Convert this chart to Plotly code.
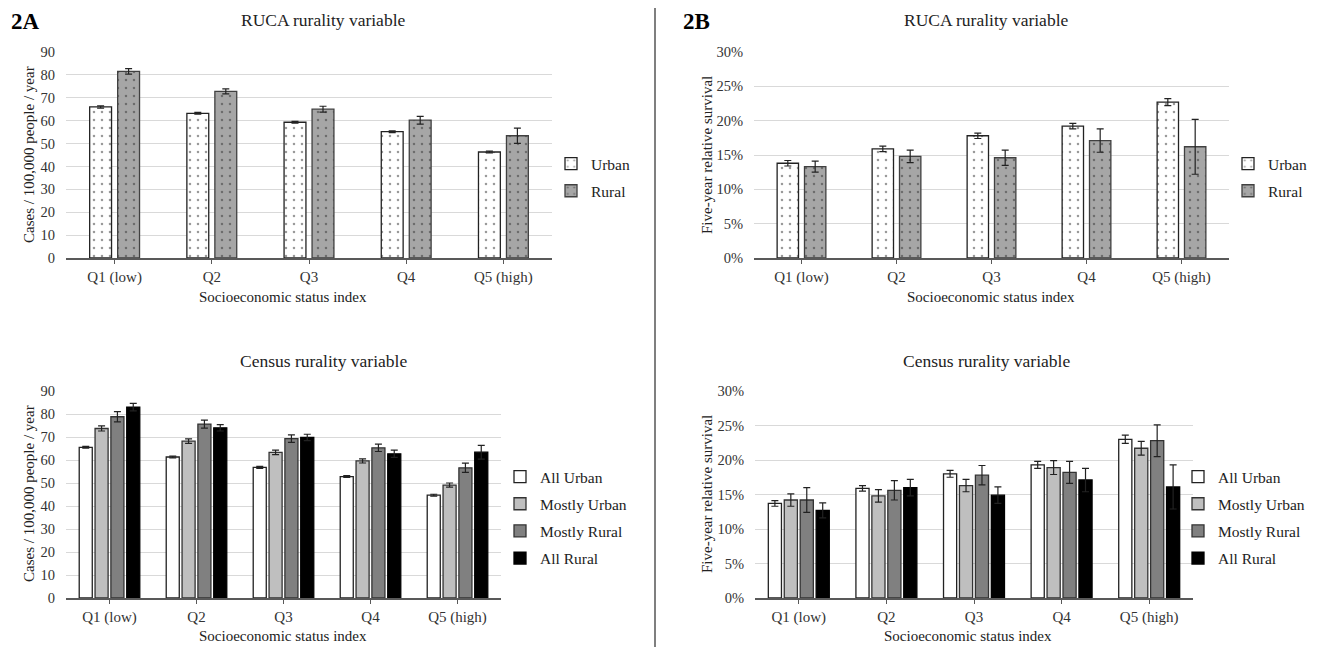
import plotly.graph_objects as go

# The page places the figure 8px in from the top-left corner, so the figure is
# sized to the remaining viewport and all pixel positions are offset by 8.
OFF = 8
W, H = 1326 - OFF, 647 - OFF

categories = ["Q1 (low)", "Q2", "Q3", "Q4", "Q5 (high)"]

# 2A top: RUCA incidence
ruca_inc_urban = [66.0, 63.2, 59.3, 55.2, 46.3]
ruca_inc_urban_err = [0.5, 0.4, 0.4, 0.4, 0.4]
ruca_inc_rural = [81.5, 72.8, 65.0, 60.2, 53.4]
ruca_inc_rural_err = [1.2, 1.1, 1.3, 1.7, 3.3]

# 2A bottom: Census incidence
cen_inc_all_urban = [65.5, 61.3, 56.8, 52.8, 44.7]
cen_inc_all_urban_err = [0.4, 0.4, 0.4, 0.4, 0.4]
cen_inc_most_urban = [73.7, 68.2, 63.3, 59.6, 49.1]
cen_inc_most_urban_err = [1.1, 1.0, 1.0, 0.9, 0.9]
cen_inc_most_rural = [78.8, 75.6, 69.3, 65.3, 56.6]
cen_inc_most_rural_err = [2.2, 1.7, 1.6, 1.6, 2.0]
cen_inc_all_rural = [83.0, 74.0, 69.8, 62.7, 63.4]
cen_inc_all_rural_err = [1.6, 1.4, 1.4, 1.6, 3.0]

# 2B top: RUCA survival (%)
ruca_sur_urban = [13.8, 15.9, 17.8, 19.2, 22.7]
ruca_sur_urban_err = [0.4, 0.4, 0.4, 0.4, 0.5]
ruca_sur_rural = [13.3, 14.8, 14.6, 17.1, 16.2]
ruca_sur_rural_err = [0.8, 0.9, 1.1, 1.7, 4.0]

# 2B bottom: Census survival (%)
cen_sur_all_urban = [13.7, 15.9, 18.0, 19.3, 23.0]
cen_sur_all_urban_err = [0.4, 0.4, 0.5, 0.5, 0.6]
cen_sur_most_urban = [14.2, 14.8, 16.3, 18.9, 21.7]
cen_sur_most_urban_err = [0.9, 0.9, 0.9, 1.0, 1.0]
cen_sur_most_rural = [14.2, 15.6, 17.8, 18.2, 22.8]
cen_sur_most_rural_err = [1.8, 1.4, 1.4, 1.6, 2.3]
cen_sur_all_rural = [12.7, 16.0, 14.9, 17.1, 16.1]
cen_sur_all_rural_err = [1.1, 1.2, 1.2, 1.7, 3.2]

FONT = "'Times New Roman', 'Liberation Serif', serif"

def px_x(p):
    return (p - OFF) / W

def px_y(p):
    return 1 - (p - OFF) / H

fig = go.Figure()

def add_bar(y, err, name, xa, ya, legend, fill, line, width, offset, dots):
    marker = dict(color=fill, line=dict(color=line, width=1.3))
    if dots:
        marker["pattern"] = dict(shape=".", fgcolor="#333333", bgcolor=fill, size=8, solidity=0.08)
    fig.add_trace(go.Bar(
        x=categories, y=y, name=name, xaxis=xa, yaxis=ya, legend=legend,
        legendgroup=legend + name,
        width=width, offset=offset, marker=marker,
        error_y=dict(type="data", array=err, visible=True, color="#222222", thickness=1.2, width=3.5),
    ))

# Two-bar panels
w2, s2 = 0.225, 0.288
off2 = [-(w2 + (s2 - w2) / 2), (s2 - w2) / 2]
add_bar(ruca_inc_urban, ruca_inc_urban_err, "Urban", "x", "y", "legend", "#ffffff", "#222222", w2, off2[0], True)
add_bar(ruca_inc_rural, ruca_inc_rural_err, "Rural", "x", "y", "legend", "#a6a6a6", "#404040", w2, off2[1], True)
add_bar(ruca_sur_urban, ruca_sur_urban_err, "Urban", "x3", "y3", "legend3", "#ffffff", "#222222", w2, off2[0], True)
add_bar(ruca_sur_rural, ruca_sur_rural_err, "Rural", "x3", "y3", "legend3", "#a6a6a6", "#404040", w2, off2[1], True)

# Four-bar panels
w4, s4 = 0.15, 0.182
names4 = ["All Urban", "Mostly Urban", "Mostly Rural", "All Rural"]
fills4 = ["#ffffff", "#bfbfbf", "#808080", "#000000"]
lines4 = ["#222222", "#333333", "#333333", "#000000"]
inc4 = [(cen_inc_all_urban, cen_inc_all_urban_err), (cen_inc_most_urban, cen_inc_most_urban_err),
        (cen_inc_most_rural, cen_inc_most_rural_err), (cen_inc_all_rural, cen_inc_all_rural_err)]
sur4 = [(cen_sur_all_urban, cen_sur_all_urban_err), (cen_sur_most_urban, cen_sur_most_urban_err),
        (cen_sur_most_rural, cen_sur_most_rural_err), (cen_sur_all_rural, cen_sur_all_rural_err)]
start4 = -2 * s4 + (s4 - w4) / 2
for i in range(4):
    add_bar(inc4[i][0], inc4[i][1], names4[i], "x2", "y2", "legend2", fills4[i], lines4[i], w4, start4 + i * s4, False)
for i in range(4):
    add_bar(sur4[i][0], sur4[i][1], names4[i], "x4", "y4", "legend4", fills4[i], lines4[i], w4, start4 + i * s4, False)

xtick_font = dict(family=FONT, size=15, color="#333333")
ytick_font = dict(family=FONT, size=14.5, color="#333333")
grid = "#d9d9d9"

def xaxis(dom, anchor):
    return dict(domain=dom, anchor=anchor, type="category", range=[-0.5, 4.5],
                showline=True, linecolor="#595959", linewidth=1.5, ticks="outside",
                ticklen=4, tickcolor="#595959", tickfont=xtick_font, showgrid=False,
                tickangle=0, automargin=False, fixedrange=True)

def yaxis(dom, anchor, rng, dtick, suffix=""):
    return dict(domain=dom, anchor=anchor, range=rng, dtick=dtick, tick0=0, ticksuffix=suffix,
                showgrid=True, gridcolor=grid, gridwidth=1, showline=False, zeroline=False,
                tickfont=ytick_font, ticks="", ticklabelstandoff=10, automargin=False,
                fixedrange=True)

top_y = [px_y(258), px_y(52)]
bot_y = [px_y(598), px_y(391)]

fig.update_layout(
    width=W, height=H, autosize=False, margin=dict(l=0, r=0, t=0, b=0, pad=0),
    paper_bgcolor="white", plot_bgcolor="white",
    barmode="overlay",
    font=dict(family=FONT, color="#222222"),
    xaxis=xaxis([px_x(66), px_x(552)], "y"),
    yaxis=yaxis(top_y, "x", [0, 90], 10),
    xaxis2=xaxis([px_x(66), px_x(501)], "y2"),
    yaxis2=yaxis(bot_y, "x2", [0, 90], 10),
    xaxis3=xaxis([px_x(754), px_x(1229)], "y3"),
    yaxis3=yaxis(top_y, "x3", [0, 30], 5, "%"),
    xaxis4=xaxis([px_x(755), px_x(1193)], "y4"),
    yaxis4=yaxis(bot_y, "x4", [0, 30], 5, "%"),
)

leg_font = dict(family=FONT, size=15.5, color="#222222")
def legend(xp, yp):
    return dict(x=px_x(xp), y=px_y(yp), xref="paper", yref="paper",
                xanchor="left", yanchor="top", font=leg_font,
                bgcolor="rgba(0,0,0,0)", itemwidth=30, tracegroupgap=4)

fig.update_layout(
    legend=legend(551, 147),
    legend2=legend(500, 460),
    legend3=legend(1228, 147),
    legend4=legend(1178, 460),
)

ann = []
def text(x, y, s, size, bold=False, angle=0, xanchor="center"):
    ann.append(dict(x=px_x(x), y=px_y(y), xref="paper", yref="paper", text=(f"<b>{s}</b>" if bold else s),
                    showarrow=False, font=dict(family=FONT, size=size, color="#000000" if bold else "#222222"),
                    textangle=angle, xanchor=xanchor, yanchor="middle"))

text(9, 22, "2A", 23, bold=True, xanchor="left")
text(681, 22, "2B", 23, bold=True, xanchor="left")
text(323, 20, "RUCA rurality variable", 17.5)
text(987, 20, "RUCA rurality variable", 17.5)
text(323, 361, "Census rurality variable", 17.5)
text(987, 361, "Census rurality variable", 17.5)
text(283, 297, "Socioeconomic status index", 15)
text(283, 636, "Socioeconomic status index", 15)
text(991, 297, "Socioeconomic status index", 15)
text(968, 636, "Socioeconomic status index", 15)
text(29, 155, "Cases / 100,000 people / year", 15, angle=-90)
text(29, 494, "Cases / 100,000 people / year", 15, angle=-90)
text(707, 155, "Five-year relative survival", 15, angle=-90)
text(707, 494, "Five-year relative survival", 15, angle=-90)
fig.update_layout(annotations=ann)

fig.add_shape(type="line", xref="paper", yref="paper", x0=px_x(655), x1=px_x(655), y0=0, y1=1,
              line=dict(color="#7f7f7f", width=2))

fig.write_html("out.html")
